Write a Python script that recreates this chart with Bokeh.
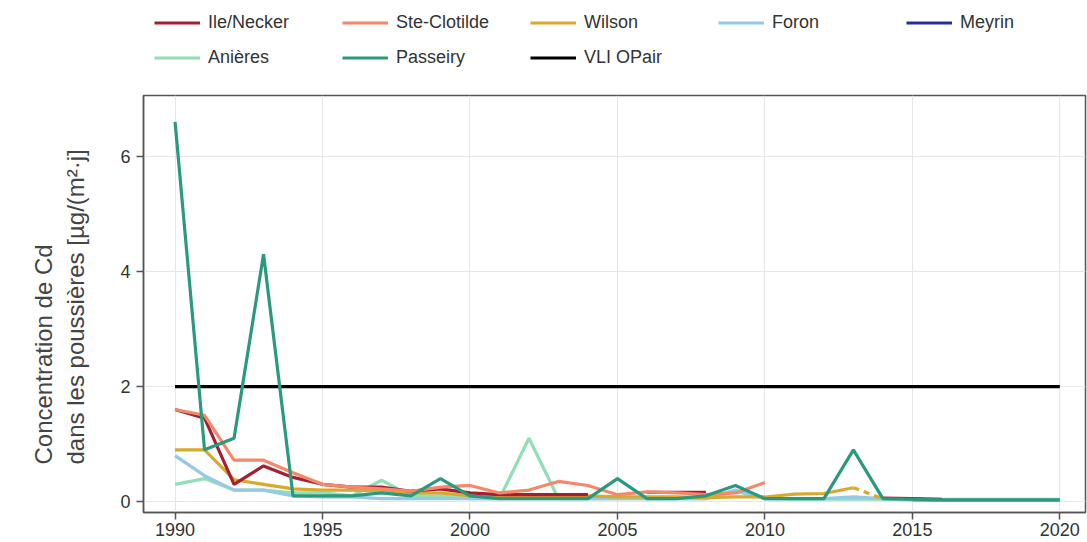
from bokeh.plotting import figure
from bokeh.layouts import column
from bokeh.models import Legend, LegendItem, FixedTicker, Range1d, Title
from bokeh.embed import file_html
from bokeh.resources import INLINE

NaN = float("nan")
years = list(range(1990, 2021))

ile_necker = [1.6, 1.45, 0.3, 0.62, 0.42, 0.3, 0.25, 0.25, 0.18, 0.22, 0.15, 0.12, 0.12, 0.12, 0.12,
              NaN, 0.16, 0.16, 0.16, NaN, NaN, NaN, NaN, NaN, 0.06, 0.05, 0.04, NaN, NaN, NaN, NaN]
ste_clotilde = [1.6, 1.5, 0.72, 0.72, 0.5, 0.3, 0.25, 0.22, 0.18, 0.25, 0.28, 0.15, 0.2, 0.35, 0.28,
                0.12, 0.17, 0.15, 0.12, 0.15, 0.33, NaN, NaN, NaN, NaN, NaN, NaN, NaN, NaN, NaN, NaN]
wilson = [0.9, 0.9, 0.38, 0.3, 0.22, 0.2, 0.2, 0.18, 0.15, 0.15, 0.1, 0.1, 0.08, 0.08, 0.1,
          0.08, 0.08, 0.08, 0.07, 0.08, 0.08, 0.13, 0.14, 0.24, 0.05, NaN, NaN, NaN, NaN, NaN, NaN]
wilson_last_solid_year = 2013
foron = [0.8, 0.45, 0.2, 0.2, 0.1, 0.08, 0.08, 0.05, 0.05, 0.05, 0.05, 0.05, 0.05, 0.05, 0.05,
         0.05, 0.05, 0.05, 0.05, 0.2, 0.05, 0.05, 0.05, 0.08, 0.05, 0.04, 0.04, 0.04, 0.04, 0.04, 0.04]
meyrin = [NaN] * 25 + [0.03, 0.03, 0.03, 0.03, 0.03, 0.03]
anieres = [0.3, 0.4, 0.2, 0.2, 0.15, 0.15, 0.1, 0.37, 0.1, 0.1, 0.05, 0.05, 1.1, 0.05, 0.05,
           0.05, 0.05, 0.05, 0.05, 0.18, 0.05, 0.04, 0.04, 0.04, 0.04, 0.03, 0.03, 0.03, 0.03, 0.03, 0.03]
passeiry = [6.6, 0.9, 1.1, 4.3, 0.1, 0.1, 0.1, 0.15, 0.1, 0.4, 0.1, 0.05, 0.05, 0.05, 0.05,
            0.4, 0.05, 0.05, 0.1, 0.28, 0.05, 0.05, 0.05, 0.9, 0.05, 0.04, 0.03, 0.03, 0.03, 0.03, 0.03]
vli_years = [1990, 2020]
vli_opair = [2, 2]

x_ticks = [1990, 1995, 2000, 2005, 2010, 2015, 2020]
y_ticks = [0, 2, 4, 6]
y_label_lines = ["Concentration de Cd", "dans les poussières [µg/(m²·j]"]

series_order = ["Ile/Necker", "Ste-Clotilde", "Wilson", "Foron", "Meyrin",
                "Anières", "Passeiry", "VLI OPair"]
colors = {
    "Ile/Necker": "#a51f33",
    "Ste-Clotilde": "#f4886a",
    "Wilson": "#d8a92c",
    "Foron": "#96c8e8",
    "Meyrin": "#2b2ba6",
    "Anières": "#92deb6",
    "Passeiry": "#2a9a7e",
    "VLI OPair": "#000000",
}

FONT = "Liberation Sans"
W = 1087
LEG_H = 80
MAIN_H = 542 - LEG_H
LW = 3.2

# ---------- main plot ----------
p = figure(width=W, height=MAIN_H, output_backend="svg", toolbar_location=None,
           x_range=Range1d(1988.93, 2020.87), y_range=Range1d(-0.19, 7.06),
           min_border_left=131, min_border_right=2, min_border_top=15, min_border_bottom=30)

p.background_fill_color = "white"
p.border_fill_color = "white"
p.outline_line_color = "#555555"
p.outline_line_width = 1.5

p.line(vli_years, vli_opair, color=colors["VLI OPair"], line_width=LW)
p.line(years, meyrin, color=colors["Meyrin"], line_width=LW)
p.line(years, anieres, color=colors["Anières"], line_width=LW)
p.line(years, foron, color=colors["Foron"], line_width=LW)
wi_solid = [v if y <= wilson_last_solid_year else NaN for y, v in zip(years, wilson)]
p.line(years, wi_solid, color=colors["Wilson"], line_width=LW)
i0 = years.index(wilson_last_solid_year)
p.line(years[i0:i0 + 2], wilson[i0:i0 + 2], color=colors["Wilson"], line_width=LW, line_dash="6 5")
p.line(years, ile_necker, color=colors["Ile/Necker"], line_width=LW)
p.line(years, ste_clotilde, color=colors["Ste-Clotilde"], line_width=LW)
p.line(years, passeiry, color=colors["Passeiry"], line_width=LW)

for ax in (p.xaxis, p.yaxis):
    ax.axis_line_color = "#555555"
    ax.axis_line_width = 1.5
    ax.major_tick_line_color = "#555555"
    ax.major_tick_line_width = 1.5
    ax.major_tick_in = 0
    ax.major_tick_out = 7
    ax.minor_tick_line_color = None
    ax.major_label_text_font = FONT
    ax.major_label_text_font_size = "18px"
    ax.major_label_text_color = "#333333"

p.xaxis.ticker = FixedTicker(ticks=x_ticks)
p.yaxis.ticker = FixedTicker(ticks=y_ticks)
p.xaxis.major_label_standoff = 3
p.yaxis.major_label_standoff = 6

# two-line y label, lines aligned at their start (bottom)
ylab = Title(text="\n".join(y_label_lines), align="left", offset=48, standoff=56,
             text_font=FONT, text_font_size="24px", text_font_style="normal",
             text_color="#444444", text_line_height=1.2)
p.add_layout(ylab, "left")

p.xgrid.grid_line_color = "#e6e6e6"
p.ygrid.grid_line_color = "#e6e6e6"
p.xgrid.ticker = FixedTicker(ticks=x_ticks)
p.ygrid.ticker = FixedTicker(ticks=y_ticks)

# ---------- legend strip ----------
lf = figure(width=W, height=LEG_H, output_backend="svg", toolbar_location=None,
            x_axis_location=None, y_axis_location=None,
            x_range=Range1d(0, 1), y_range=Range1d(0, 1),
            min_border_left=0, min_border_right=0, min_border_top=0, min_border_bottom=0)
lf.outline_line_color = None
lf.grid.visible = False
items = []
for name in series_order:
    r = lf.line([-10, -9], [-10, -10], color=colors[name], line_width=LW)
    items.append(LegendItem(label=name, renderers=[r]))
legend = Legend(items=items, ncols=5, orientation="horizontal",
                location=(11, 10),
                glyph_width=46, glyph_height=25, label_height=25, label_width=124,
                label_standoff=8, spacing=10, padding=4, margin=0,
                label_text_font=FONT, label_text_font_size="18px", label_text_color="#333333",
                border_line_color=None, background_fill_alpha=0)
lf.add_layout(legend, "center")

layout = column(lf, p, spacing=0)
open("out.html", "w").write(file_html(layout, INLINE))
